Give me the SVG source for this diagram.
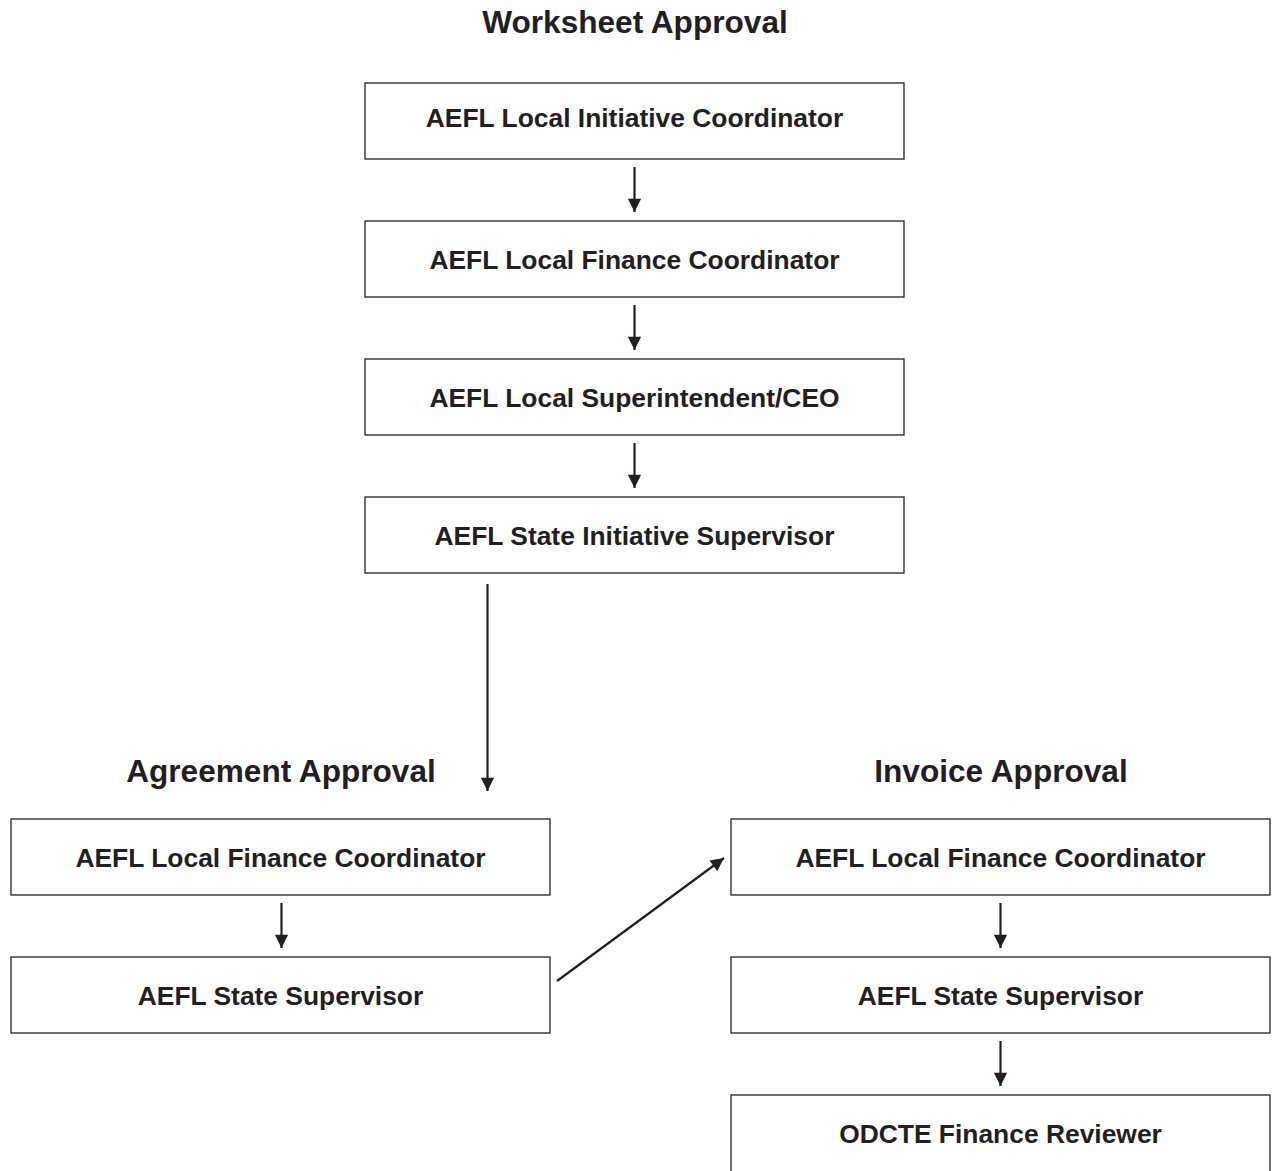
<svg xmlns="http://www.w3.org/2000/svg" width="1272" height="1171" viewBox="0 0 1272 1171">
<style>
.box{fill:#fff;stroke:#231f20;stroke-width:1.3}
.t{font-family:"Liberation Sans",Arial,sans-serif;font-weight:bold;font-size:26.4px;fill:#231f20;text-anchor:middle}
.h{font-family:"Liberation Sans",Arial,sans-serif;font-weight:bold;font-size:31.6px;fill:#231f20;text-anchor:middle}
.c{stroke:#231f20;stroke-width:2.2;fill:none;marker-end:url(#ah)}
</style>
<defs>
<marker id="ah" viewBox="0 0 10 10" refX="10" refY="5" markerWidth="6.5" markerHeight="6" markerUnits="strokeWidth" orient="auto">
<path d="M0,0 L10,5 L0,10 z" fill="#231f20"/>
</marker>
</defs>
<rect width="1272" height="1171" fill="#fff"/>
<text class="h" x="635" y="33">Worksheet Approval</text>
<text class="h" x="281" y="782">Agreement Approval</text>
<text class="h" x="1001" y="782">Invoice Approval</text>
<g id="n1"><rect class="box" x="365" y="83" width="539" height="76"/><text class="t" x="634.5" y="127">AEFL Local Initiative Coordinator</text></g>
<g id="n2"><rect class="box" x="365" y="221" width="539" height="76"/><text class="t" x="634.5" y="269">AEFL Local Finance Coordinator</text></g>
<g id="n3"><rect class="box" x="365" y="359" width="539" height="76"/><text class="t" x="634.5" y="407">AEFL Local Superintendent/CEO</text></g>
<g id="n4"><rect class="box" x="365" y="497" width="539" height="76"/><text class="t" x="634.5" y="545">AEFL State Initiative Supervisor</text></g>
<g id="a1"><rect class="box" x="11" y="819" width="539" height="76"/><text class="t" x="280.5" y="867">AEFL Local Finance Coordinator</text></g>
<g id="a2"><rect class="box" x="11" y="957" width="539" height="76"/><text class="t" x="280.5" y="1005">AEFL State Supervisor</text></g>
<g id="i1"><rect class="box" x="731" y="819" width="539" height="76"/><text class="t" x="1000.5" y="867">AEFL Local Finance Coordinator</text></g>
<g id="i2"><rect class="box" x="731" y="957" width="539" height="76"/><text class="t" x="1000.5" y="1005">AEFL State Supervisor</text></g>
<g id="i3"><rect class="box" x="731" y="1095" width="539" height="100"/><text class="t" x="1000.5" y="1143">ODCTE Finance Reviewer</text></g>
<g id="connectors">
<line class="c" x1="634.5" y1="167" x2="634.5" y2="212"/>
<line class="c" x1="634.5" y1="305" x2="634.5" y2="350"/>
<line class="c" x1="634.5" y1="443" x2="634.5" y2="488"/>
<line class="c" x1="487.5" y1="584" x2="487.5" y2="791"/>
<line class="c" x1="281.5" y1="903" x2="281.5" y2="948"/>
<line class="c" x1="1000.5" y1="903" x2="1000.5" y2="948"/>
<line class="c" x1="1000.5" y1="1041" x2="1000.5" y2="1086"/>
<line class="c" x1="557" y1="981" x2="724" y2="858"/>
</g>
</svg>
